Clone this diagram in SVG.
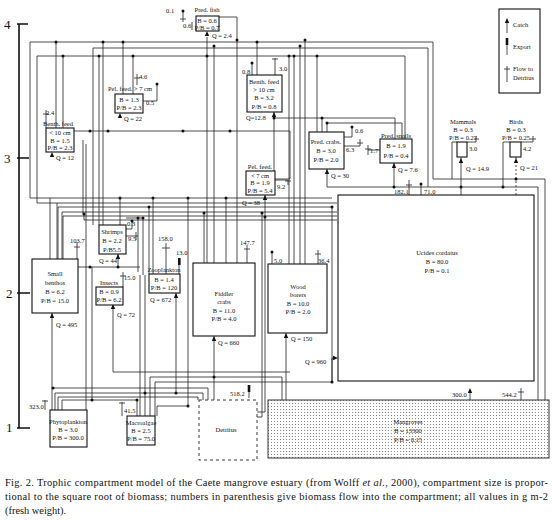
<svg xmlns="http://www.w3.org/2000/svg" width="555" height="520" viewBox="0 0 555 520">
<style>
text{font-family:"Liberation Serif","Times New Roman",serif;fill:#111}
.t{font-size:6.5px;text-anchor:middle}
.l{font-size:6.5px}
.box{fill:#fff;stroke:#111;stroke-width:1.1}
.c{fill:none;stroke:#222;stroke-width:0.8}
.dash{fill:none;stroke:#222;stroke-width:0.8;stroke-dasharray:2,2}
.ax{fill:none;stroke:#111;stroke-width:1.6}
.cap{font-size:10.4px}
</style>
<defs>
<path id="au" d="M-2.2,0 L0,-5 L2.2,0Z" fill="#111"/>
<path id="ar" d="M0,-2.2 L5,0 L0,2.2Z" fill="#111"/>
<circle id="d" r="1.5" fill="#111"/>
<pattern id="dots" width="3" height="3" patternUnits="userSpaceOnUse"><rect width="3" height="3" fill="#fff"/><rect x="1" y="1" width="1" height="1" fill="#888"/></pattern>
</defs>
<rect width="555" height="520" fill="#fff"/>

<!-- axis -->
<g id="axis">
<path class="ax" d="M19,24 V428 M17,24 H28 M17,158 H29 M17,293 H30 M17,428 H30"/>
<text x="4" y="29" style="font-size:13px">4</text>
<text x="4" y="163" style="font-size:13px">3</text>
<text x="6" y="298" style="font-size:13px">2</text>
<text x="6" y="432" style="font-size:13px">1</text>
</g>

<!-- connectors -->
<g id="connectors">
<path class="c" d="M30,198 V42 H433 V179 H545 V400"/>
<path class="c" d="M93,225 V48 H428 V187 H538 V400"/>
<path class="c" d="M37,203 V56 H405 V139"/>
<path class="c" d="M56,42 V128 M63,56 V128 M103,42 V225 M99,56 V225 M123,42 V94 M133,56 V94"/>
<path class="c" d="M207,37 V263 M214,46 V263 M219,17 H237 V263 M257,42 V75"/>
<path class="c" d="M289,56 V264 M294,56 V264 M300,46 V264 M305,40 V264 M317,56 V132"/>
<path class="c" d="M274,112 V171 M274,118 H395 V139 M322,118 V132 M327,123 H402 V139 M327,123 V132"/>
<path class="c" d="M74,131 H290 V179 H275 M83,140 V214 M86,144 V410"/>
<path class="c" d="M30,198 H332 M50,198 V259 M37,203 H337 M57,203 V259 M58,259 V207 H332 V382 M62,259 V212 H337 M63,259 V216 H337 M84,214 V220 H337"/>
<path class="c" d="M120,198 V225 M153,198 V274 M149,207 V274 M188,198 V406 H157 V416 M204,213 V263 M226,198 V263 M262,213 V417 H257 M265,195 V412 H257"/>
<path class="c" d="M126,218 H143 V275 M138,218 V272"/>
<path class="c" d="M78,267 H140 M118,254 V267 M92,267 V400"/>
<path class="c" d="M113,304 V372 H290 M176,293 V393 M140,275 V416 M145,275 V416"/>
<path class="c" d="M52,313 V410 M53,388 H208 V400 M55,410 V393 H203 V400 M58,410 V397 H198 V400 M62,410 V400 H137 V416"/>
<path class="c" d="M150,416 V377 H282 V400 M155,416 V382 H332 V358 H334 M214,336 V400 M286,333 V400"/>
<path class="c" d="M327,169 V187 H428 M394,163 V187 M461,157 V195 M452,142 H457 M452,142 V179 M503,142 H510 M503,142 V187"/>
<path class="dash" d="M516,157 V195"/>
<!-- dots -->
<g>
<use href="#d" x="56" y="42"/><use href="#d" x="103" y="42"/><use href="#d" x="123" y="42"/><use href="#d" x="237" y="40"/><use href="#d" x="257" y="42"/><use href="#d" x="305" y="40"/>
<use href="#d" x="214" y="46"/><use href="#d" x="300" y="46"/>
<use href="#d" x="63" y="56"/><use href="#d" x="99" y="56"/><use href="#d" x="133" y="56"/><use href="#d" x="207" y="56"/><use href="#d" x="289" y="56"/><use href="#d" x="294" y="56"/><use href="#d" x="317" y="56"/>
<use href="#d" x="322" y="118"/><use href="#d" x="274" y="118"/><use href="#d" x="327" y="123"/>
<use href="#d" x="90" y="131"/><use href="#d" x="108" y="131"/><use href="#d" x="183" y="131"/><use href="#d" x="230" y="131"/>
<use href="#d" x="120" y="198"/><use href="#d" x="153" y="198"/><use href="#d" x="188" y="198"/><use href="#d" x="226" y="198"/>
<use href="#d" x="149" y="207"/><use href="#d" x="332" y="207"/><use href="#d" x="204" y="213"/><use href="#d" x="262" y="213"/><use href="#d" x="84" y="214"/><use href="#d" x="265" y="217"/>
<use href="#d" x="138" y="218"/><use href="#d" x="143" y="218"/>
<use href="#d" x="90" y="267"/><use href="#d" x="118" y="267"/>
<use href="#d" x="53" y="388"/><use href="#d" x="145" y="393"/><use href="#d" x="176" y="393"/><use href="#d" x="92" y="400"/><use href="#d" x="137" y="400"/>
<use href="#d" x="214" y="377"/><use href="#d" x="332" y="382"/><use href="#d" x="188" y="406"/>
<use href="#d" x="461" y="187"/><use href="#d" x="503" y="187"/><use href="#d" x="516" y="179"/><use href="#d" x="394" y="187"/>
</g>
<!-- Q arrows -->
<use href="#au" x="207" y="36"/><use href="#au" x="120" y="118"/><use href="#au" x="52" y="157"/><use href="#au" x="274" y="117"/>
<use href="#au" x="327" y="174"/><use href="#au" x="394" y="168"/><use href="#au" x="265" y="200"/><use href="#au" x="461" y="163"/><use href="#au" x="516" y="163"/>
<use href="#au" x="118" y="259"/><use href="#au" x="113" y="309"/><use href="#au" x="176" y="298"/><use href="#au" x="52" y="318"/>
<use href="#au" x="214" y="341"/><use href="#au" x="286" y="338"/><use href="#ar" x="333" y="358"/>
<!-- flows to detritus / exports / catch -->
<path class="c" d="M183,11 V22 M180,19 H186 M192,22 V30"/>
<use href="#d" x="183" y="11"/>
<path class="c" d="M137,85 V74 M134,78 H140 M143,101 H157 V84"/>
<use href="#d" x="157" y="84"/>
<path class="c" d="M46,128 V110 M43,114 H49"/>
<path class="c" d="M252,75 V63 M275,75 V58 M272,59 H278"/>
<use href="#d" x="252" y="63"/>
<path class="c" d="M344,137 H352 V127 M344,146 H360 V139 M357,143 H363"/>
<use href="#d" x="352" y="127"/>
<path class="c" d="M380,150 H368 M368,145 V155 M365,149 H371"/>
<path class="c" d="M275,180 H288 V185 M285,181 H291"/>
<path class="c" d="M467,142 H476 V137 M474,139 H479 M521,142 H533 V136 M530,139 H536"/>
<path class="c" d="M126,229 H132 V221 M126,236 H138 M136,232 V240"/>
<use href="#d" x="132" y="221"/>
<path class="c" d="M77,259 V242 M74,247 H80"/>
<path class="c" d="M123,287 V272 M120,276 H126"/>
<path class="c" d="M166,274 V243 M162,248 H170"/>
<path class="c" d="M179,274 V258"/><rect x="178" y="258" width="2.6" height="7" fill="#111"/>
<path class="c" d="M247,263 V245 M244,249 H250"/>
<path class="c" d="M272,264 V252 M318,264 V250 M315,254 H321"/>
<use href="#d" x="272" y="252"/>
<path class="c" d="M409,195 V180 M406,185 H412 M421,195 V184"/>
<use href="#d" x="421" y="184"/>
<path class="c" d="M470,400 V390 M521,400 V388 M518,392 H524"/>
<use href="#au" x="470" y="393"/>
<path class="c" d="M249,398 V385"/><rect x="247.7" y="385" width="2.6" height="7" fill="#111"/>
<path class="c" d="M45,410 V400 M42,401 H48 M122,416 V402 M119,403 H125"/>
</g>

<!-- nodes -->
<g id="pred-fish"><rect class="box" x="196" y="16" width="23" height="15"/><text class="t" x="207" y="12">Pred. fish</text><text class="t" x="207" y="23">B = 0.6</text><text class="t" x="207" y="29.5">P/B = 0.7</text><text class="l" x="166" y="13">0.1</text><text class="l" x="183" y="28">0.6</text><text class="l" x="212" y="38">Q = 2.4</text></g>
<g id="pel-feed-large"><rect class="box" x="115" y="94" width="28" height="19"/><text class="t" x="130" y="91">Pel. feed. &gt; 7 cm</text><text class="t" x="129" y="102">B = 1.3</text><text class="t" x="129" y="110">P/B = 2.3</text><text class="l" x="139" y="79">4.6</text><text class="l" x="146" y="105">0.5</text><text class="l" x="124" y="121">Q = 22</text></g>
<g id="benth-feed-small"><rect class="box" x="46" y="128" width="28" height="24"/><text class="t" x="58" y="126">Benth. feed</text><text class="t" x="60" y="135">&lt; 10 cm</text><text class="t" x="60" y="143">B = 1.5</text><text class="t" x="60" y="150">P/B = 2.3</text><text class="l" x="46" y="115">2.4</text><text class="l" x="56" y="160">Q = 12</text></g>
<g id="benth-feed-large"><rect class="box" x="247" y="75" width="35" height="37"/><text class="t" x="264" y="84">Benth. feed</text><text class="t" x="264" y="92">&gt; 10 cm</text><text class="t" x="264" y="100">B = 3.2</text><text class="t" x="264" y="109">P/B = 0.8</text><text class="l" x="242" y="74">0.8</text><text class="l" x="279" y="71">3.0</text><text class="l" x="246" y="120">Q=12.8</text></g>
<g id="pred-crabs"><rect class="box" x="309" y="132" width="35" height="37"/><text class="t" x="326" y="144">Pred. crabs.</text><text class="t" x="326" y="153">B = 3.0</text><text class="t" x="326" y="162">P/B = 2.0</text><text class="l" x="355" y="133">0.6</text><text class="l" x="346" y="152">6.3</text><text class="l" x="331" y="178">Q = 30</text></g>
<g id="pred-snails"><rect class="box" x="380" y="139" width="32" height="24"/><text class="t" x="396" y="138">Pred. snails</text><text class="t" x="396" y="148">B = 1.9</text><text class="t" x="396" y="158">P/B = 0.4</text><text class="l" x="370" y="153">1.7</text><text class="l" x="398" y="172">Q = 7.6</text></g>
<g id="pel-feed-small"><rect class="box" x="246" y="171" width="29" height="24"/><text class="t" x="260" y="169">Pel. feed.</text><text class="t" x="260" y="178">&lt; 7 cm</text><text class="t" x="260" y="185">B = 1.9</text><text class="t" x="260" y="193">P/B = 5.4</text><text class="l" x="277" y="189">9.2</text><text class="l" x="242" y="205">Q = 38</text></g>
<g id="mammals"><text class="t" x="463" y="124">Mammals</text><text class="t" x="463" y="132">B = 0.3</text><text class="t" x="463" y="140">P/B = 0.27</text><rect class="box" x="457" y="142" width="10" height="15"/><text class="l" x="469" y="151">3.0</text><text class="l" x="466" y="171">Q = 14.9</text></g>
<g id="birds"><text class="t" x="516" y="124">Birds</text><text class="t" x="516" y="132">B = 0.3</text><text class="t" x="516" y="140">P/B = 0.25</text><rect class="box" x="510" y="142" width="11" height="15"/><text class="l" x="523" y="151">4.2</text><text class="l" x="520" y="170">Q = 21</text></g>
<g id="legend"><rect class="box" x="499" y="9" width="41" height="84"/><path class="c" d="M507,22 V33 M507,45 V55 M507,66 V82 M504,69 H510"/><use href="#au" x="507" y="23"/><rect x="505.7" y="38" width="2.6" height="7" fill="#111"/><text class="l" x="513" y="27">Catch</text><text class="l" x="513" y="49">Export</text><text class="l" x="513" y="71">Flow to</text><text class="l" x="513" y="80">Detritus</text></g>
<g id="small-benthos"><rect class="box" x="32" y="259" width="46" height="54"/><text class="t" x="55" y="276">Small</text><text class="t" x="55" y="285">benthos</text><text class="t" x="55" y="294">B = 6.2</text><text class="t" x="55" y="303">P/B = 15.0</text><text class="l" x="70" y="243">103.7</text><text class="l" x="56" y="327">Q = 495</text></g>
<g id="shrimps"><rect class="box" x="99" y="225" width="27" height="29"/><text class="t" x="112" y="234">Shrimps</text><text class="t" x="112" y="243">B = 2.2</text><text class="t" x="112" y="252">P/B5.5</text><text class="l" x="127" y="226">0.3</text><text class="l" x="128" y="241">9.5</text><text class="l" x="99" y="263">Q = 44</text></g>
<g id="insects"><rect class="box" x="96" y="287" width="27" height="18"/><text class="t" x="109" y="285">Insects</text><text class="t" x="109" y="294">B = 0.9</text><text class="t" x="109" y="302">P/B = 6.2</text><text class="l" x="124" y="280">15.0</text><text class="l" x="117" y="317">Q = 72</text></g>
<g id="zooplankton"><rect class="box" x="149" y="274" width="31" height="19"/><text class="t" x="164" y="272">Zooplankton</text><text class="t" x="164" y="282">B = 1.4</text><text class="t" x="164" y="290">P/B = 120</text><text class="l" x="158" y="241">158.0</text><text class="l" x="176" y="255">13.0</text><text class="l" x="150" y="302">Q = 672</text></g>
<g id="fiddler-crabs"><rect class="box" x="193" y="263" width="62" height="73"/><text class="t" x="224" y="296">Fiddler</text><text class="t" x="224" y="304">crabs</text><text class="t" x="224" y="313">B = 11.0</text><text class="t" x="224" y="321">P/B = 4.0</text><text class="l" x="240" y="245">147.7</text><text class="l" x="218" y="345">Q = 660</text></g>
<g id="wood-borers"><rect class="box" x="268" y="264" width="59" height="69"/><text class="t" x="298" y="289">Wood</text><text class="t" x="298" y="297">borers</text><text class="t" x="298" y="306">B = 10.0</text><text class="t" x="298" y="314">P/B = 2.0</text><text class="l" x="274" y="263">5.0</text><text class="l" x="318" y="263">36.4</text><text class="l" x="291" y="341">Q = 150</text></g>
<g id="ucides"><rect class="box" x="338" y="195" width="196" height="186"/><text class="t" x="437" y="255">Ucides cordatus</text><text class="t" x="437" y="264">B = 80.0</text><text class="t" x="437" y="273">P/B = 0.1</text><text class="l" x="394" y="194">182.1</text><text class="l" x="424" y="194">71.0</text><text class="l" x="305" y="364">Q = 960</text></g>
<g id="mangroves"><rect x="268" y="400" width="281" height="58" fill="url(#dots)" stroke="#333" stroke-width="1"/><text class="t" x="408" y="424">Mangroves</text><text class="t" x="408" y="433">B = 13300</text><text class="t" x="408" y="442">P/B = 0.15</text><text class="l" x="452" y="397">300.0</text><text class="l" x="502" y="397">544.2</text></g>
<g id="detritus"><rect x="199" y="400" width="58" height="60" fill="#fff" stroke="#222" stroke-width="0.9" stroke-dasharray="3,3"/><text class="t" x="226" y="432">Detritus</text><text class="l" x="230" y="396">518.2</text></g>
<g id="phytoplankton"><rect class="box" x="50" y="410" width="37" height="37"/><text class="t" x="68" y="424">Phytoplankton</text><text class="t" x="68" y="432">B = 3.0</text><text class="t" x="68" y="440">P/B = 300.0</text><text class="l" x="29" y="409">323.0</text></g>
<g id="macroalgae"><rect class="box" x="127" y="416" width="28" height="29"/><text class="t" x="141" y="425">Macroalgae</text><text class="t" x="141" y="433">B = 2.5</text><text class="t" x="141" y="441">P/B = 75.0</text><text class="l" x="124" y="413">41.5</text></g>

<g id="caption">
<text class="cap" x="5" y="486" textLength="543" lengthAdjust="spacing">Fig. 2. Trophic compartment model of the Caete mangrove estuary (from Wolff <tspan font-style="italic">et al.</tspan>, 2000), compartment size is propor-</text>
<text class="cap" x="5" y="500" textLength="543" lengthAdjust="spacing">tional to the square root of biomass; numbers in parenthesis give biomass flow into the compartment; all values in g m-2</text>
<text class="cap" x="5" y="514">(fresh weight).</text>
</g>
</svg>
